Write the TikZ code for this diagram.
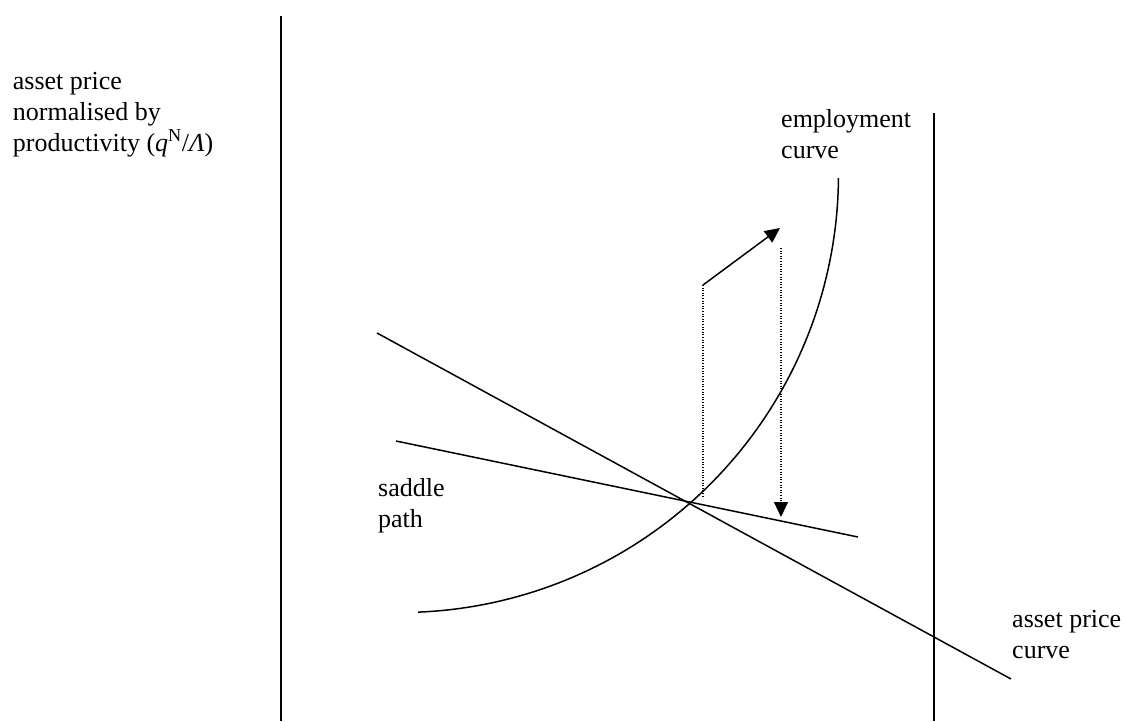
\documentclass[tikz,border=0pt]{standalone}
\usepackage{fontspec}
\setmainfont{Liberation Serif}
\usetikzlibrary{arrows.meta}

\tikzset{
	curve/.style={line width=1.5pt},
	guide/.style={line width=1.1pt, dash pattern=on 1pt off 1.6pt},
	label/.style={anchor=base west, inner sep=0pt, align=left,
		font=\fontsize{26}{31}\selectfont},
	tip/.style={-{Triangle[length=15pt, width=14pt]}}
}

\begin{document}
\begin{tikzpicture}[x=1pt, y=-1pt]
		\useasboundingbox (0, 0) rectangle (1124, 721);
		
		% the two vertical lines
		\draw[curve] (281, 16) -- (281, 721);
		\draw[curve] (934, 113) -- (934, 721);
		
		% asset price curve and saddle path
		\coordinate (apA) at (377, 333);
		\coordinate (apB) at (1011, 679);
		\draw[curve] (apA) -- (apB);
		\coordinate (spA) at (396, 441);
		\coordinate (spB) at (858, 537);
		\draw[curve] (spA) -- (spB);
		
		% employment curve: a piece of a circle round (400.5, 174.5)
		\draw[curve] plot[domain=87.7:0.46, samples=80]
			({400.5 + 438*cos(\x)}, {174.5 + 438*sin(\x)});
		
		% the jump and the way back down
		\coordinate (jumpA) at (703, 285);
		\coordinate (jumpB) at (780, 228);
		\coordinate (jumpC) at (703, 497);
		\coordinate (downA) at (781, 248);
		\coordinate (downB) at (781, 517);
		\draw[curve, tip] (jumpA) -- (jumpB);
		\draw[guide] (jumpA) -- (jumpC);
		\draw[guide, tip] (downA) -- (downB);
		
		% labels (base is the last line)
		\node[label] (yname) at (12.7, 151) {asset price\\normalised by\\productivity
			(\textit{q}\textsuperscript{N}/\textit{Λ})};
		\node[label] (empname) at (781, 158) {employment\\curve};
		\node[label] (spname) at (378, 527) {saddle\\path};
		\node[label] (apname) at (1012, 658) {asset price\\curve};
	\end{tikzpicture}
\end{document}
